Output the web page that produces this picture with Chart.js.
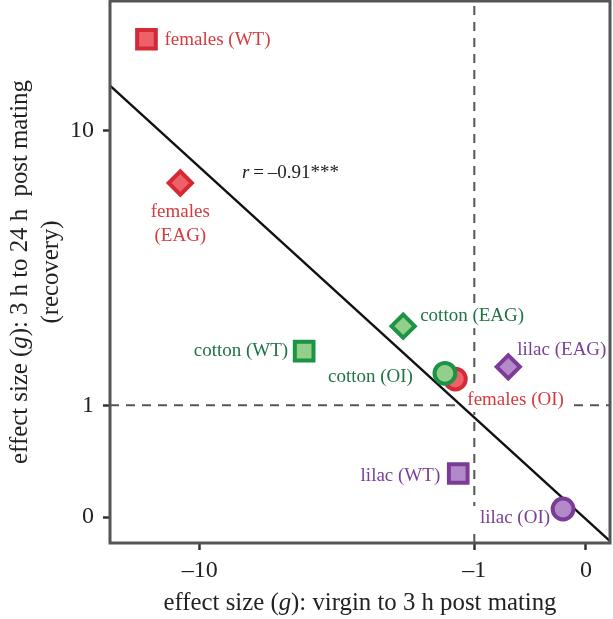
<!DOCTYPE html>
<html>
<head>
<meta charset="utf-8">
<script src="https://cdn.jsdelivr.net/npm/chart.js@4/dist/chart.umd.min.js"></script>
<style>
  html, body { margin: 0; padding: 0; background: #ffffff; }
  #wrap { width: 613px; height: 619px; position: relative; }
</style>
</head>
<body>
<div id="wrap"><canvas id="c" width="613" height="619"></canvas></div>
<script>
// ---------------- data (effect sizes, g) ----------------
const conditions = ['WT', 'EAG', 'OI'];
const femalesX = [-14.3, -11.4, -1.25];
const femalesY = [18.4, 6.95, 1.355];
const cottonX  = [-4.75, -2.11, -1.40];
const cottonY  = [1.80, 2.27, 1.44];
const lilacX   = [-1.21, -0.62, -0.153];
const lilacY   = [0.31, 1.54, 0.051];

const xTickValues = [-10, -1, 0];
const xTickLabels = ['\u201310', '\u20131', '0'];
const yTickValues = [0, 1, 10];
const yTickLabels = ['0', '1', '10'];

const refX = -1;   // dashed vertical reference
const refY = 1;    // dashed horizontal reference
const fitSlope = -0.911;      // regression in transformed units
const fitIntercept = -0.006;
const corrText = '\u2009=\u2009\u20130.91***';

// ---------------- transform: signed log10(1+|v|) ----------------
const T = v => Math.sign(v) * Math.log10(1 + Math.abs(v));
const xMin = -1.283, xMax = 0.0647;
const yMin = -0.070, yMax = 1.391;

// ---------------- styles / layout ----------------
const FONT = '"Liberation Serif", "Times New Roman", serif';
const groupStyles = {
  females: { stroke: '#d42a35', fill: '#ef6168', text: '#d63a3f' },
  cotton:  { stroke: '#1b9446', fill: '#93cf8a', text: '#1d7444' },
  lilac:   { stroke: '#7d3b98', fill: '#b38ac9', text: '#7b3f98' }
};
const markerStyles = ['rect', 'rectRot', 'circle'];
const markerRadius = [13.2, 11.6, 10.4];
// label placement: [dx, dy, align] relative to marker centre
const labelPlacement = {
  females: [[18, 1, 'left'], [0, 29, 'center2'], [12, 21, 'left']],
  cotton:  [[-16, 0, 'right'], [17, -10, 'left'], [-32, 4, 'right']],
  lilac:   [[-18, 2, 'right'], [9, -17, 'left'], [-13, 9, 'right']]
};

function groupDataset(name, xs, ys, order) {
  const s = groupStyles[name];
  return {
    label: name,
    groupName: name,
    data: xs.map((x, i) => ({ x: T(x), y: T(ys[i]) })),
    pointStyle: markerStyles,
    pointRadius: markerRadius,
    pointHoverRadius: markerRadius,
    pointBackgroundColor: s.fill,
    pointBorderColor: s.stroke,
    pointBorderWidth: 4,
    showLine: false,
    clip: false,
    order: order
  };
}

const fitData = [xMin, xMax].map(x => ({ x: x, y: fitIntercept + fitSlope * x }));

const datasets = [
  groupDataset('cotton', cottonX, cottonY, 1),
  groupDataset('females', femalesX, femalesY, 2),
  groupDataset('lilac', lilacX, lilacY, 0),
  {
    label: 'fit', isFit: true, data: fitData, showLine: true, borderColor: '#111', borderWidth: 2.4,
    pointRadius: 0, order: 5
  },
  {
    label: 'refV', data: [{ x: T(refX), y: yMin }, { x: T(refX), y: yMax }], showLine: true,
    borderColor: '#555', borderWidth: 2, borderDash: [9, 7], pointRadius: 0, order: 6
  },
  {
    label: 'refH', data: [{ x: xMin, y: T(refY) }, { x: xMax, y: T(refY) }], showLine: true,
    borderColor: '#555', borderWidth: 2, borderDash: [9, 7], pointRadius: 0, order: 6
  }
];

function drawMixed(ctx, parts, x, y, size, align) {
  let total = 0;
  const widths = parts.map(p => {
    ctx.font = (p[1] ? 'italic ' : '') + size + 'px ' + FONT;
    const w = ctx.measureText(p[0]).width; total += w; return w;
  });
  let cx = align === 'center' ? x - total / 2 : x;
  parts.forEach((p, i) => {
    ctx.font = (p[1] ? 'italic ' : '') + size + 'px ' + FONT;
    ctx.textAlign = 'left';
    ctx.fillText(p[0], cx, y);
    cx += widths[i];
  });
}

// collect label boxes for every point
function labelItems(chart) {
  const items = [];
  chart.data.datasets.forEach((ds, di) => {
    if (!ds.groupName) return;
    const meta = chart.getDatasetMeta(di);
    meta.data.forEach((pt, i) => {
      const [dx, dy, al] = labelPlacement[ds.groupName][i];
      if (al === 'center2') {
        items.push({ txt: ds.groupName, x: pt.x + dx, y: pt.y + dy, al: 'center', color: groupStyles[ds.groupName].text });
        items.push({ txt: '(' + conditions[i] + ')', x: pt.x + dx, y: pt.y + dy + 24, al: 'center', color: groupStyles[ds.groupName].text });
      } else {
        items.push({ txt: ds.groupName + ' (' + conditions[i] + ')', x: pt.x + dx, y: pt.y + dy, al: al, color: groupStyles[ds.groupName].text });
      }
    });
  });
  return items;
}

const decor = {
  id: 'decor',
  beforeDatasetDraw(chart, args) {
    // white boxes behind labels: drawn over dashed guides, under the fit line
    if (!chart.data.datasets[args.index].isFit) return;
    const ctx = chart.ctx;
    ctx.save();
    ctx.font = '19px ' + FONT;
    ctx.fillStyle = '#ffffff';
    labelItems(chart).forEach(it => {
      const w = ctx.measureText(it.txt).width;
      let l = it.al === 'left' ? it.x : it.al === 'right' ? it.x - w : it.x - w / 2;
      ctx.fillRect(l - 8, it.y - 12, w + 16, 24);
    });
    ctx.restore();
  },
  afterDatasetsDraw(chart) {
    const ctx = chart.ctx;
    const xs = chart.scales.x, ys = chart.scales.y;
    const area = chart.chartArea;
    ctx.save();
    ctx.font = '19px ' + FONT;
    ctx.textBaseline = 'middle';
    labelItems(chart).forEach(it => {
      ctx.fillStyle = it.color;
      ctx.textAlign = it.al;
      ctx.fillText(it.txt, it.x, it.y);
    });
    // correlation annotation
    ctx.fillStyle = '#222';
    drawMixed(ctx, [['r', true], [corrText, false]],
      xs.getPixelForValue(-0.927), ys.getPixelForValue(0.927), 19, 'left');
    // frame
    ctx.strokeStyle = '#555';
    ctx.lineWidth = 3;
    ctx.strokeRect(area.left, area.top, area.right - area.left, area.bottom - area.top);
    // axis titles
    ctx.fillStyle = '#222';
    ctx.textBaseline = 'middle';
    const cxm = (area.left + area.right) / 2;
    drawMixed(ctx, [['effect size (', false], ['g', true], ['): virgin to 3 h post mating', false]],
      cxm, 603, 24.8, 'center');
    const cym = (area.top + area.bottom) / 2;
    ctx.translate(20, cym);
    ctx.rotate(-Math.PI / 2);
    drawMixed(ctx, [['effect size (', false], ['g', true], ['): 3 h to 24 h  post mating', false]],
      0, 0, 24.8, 'center');
    drawMixed(ctx, [['(recovery)', false]], 0, 31, 24.8, 'center');
    ctx.restore();
  }
};

function zeroPad(s) { s.paddingTop = 0; s.paddingBottom = 0; s.paddingLeft = 0; s.paddingRight = 0; }

new Chart(document.getElementById('c'), {
  type: 'scatter',
  data: { datasets },
  options: {
    responsive: false,
    animation: false,
    events: [],
    layout: { autoPadding: false, padding: { top: 1, right: 3, left: 0, bottom: 0 } },
    plugins: { legend: { display: false }, tooltip: { enabled: false } },
    scales: {
      x: {
        type: 'linear', min: xMin, max: xMax,
        afterFit(s) { s.height = 76; zeroPad(s); },
        afterBuildTicks(s) { s.ticks = xTickValues.map(v => ({ value: T(v) })); },
        ticks: {
          callback: (v, i) => xTickLabels[i],
          font: { family: FONT, size: 24 }, color: '#222', padding: 6, maxRotation: 0, autoSkip: false
        },
        grid: { display: true, drawOnChartArea: false, drawTicks: true, tickLength: 7, tickWidth: 2.5, tickColor: '#333' },
        border: { display: false }
      },
      y: {
        type: 'linear', min: yMin, max: yMax,
        afterFit(s) { s.width = 110; zeroPad(s); },
        afterBuildTicks(s) { s.ticks = yTickValues.map(v => ({ value: T(v) })); },
        ticks: {
          callback: (v, i) => yTickLabels[i],
          font: { family: FONT, size: 24 }, color: '#222', padding: 9, autoSkip: false
        },
        grid: { display: true, drawOnChartArea: false, drawTicks: true, tickLength: 7, tickWidth: 2.5, tickColor: '#333' },
        border: { display: false }
      }
    }
  },
  plugins: [decor]
});
</script>
</body>
</html>
